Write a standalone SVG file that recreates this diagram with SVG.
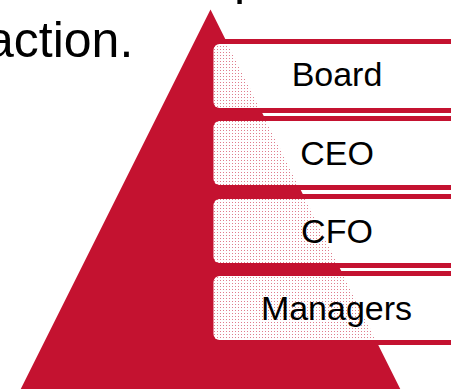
<svg xmlns="http://www.w3.org/2000/svg" width="451" height="389" viewBox="0 0 451 389">
  <defs>
    <!-- white fill with a sparse grid of see-through pixels (dithered transparency) -->
    <pattern id="dither" patternUnits="userSpaceOnUse" x="0" y="0" width="3" height="3">
      <path d="M0 0H3V3H0Z M1 1V2H2V1Z" fill="#ffffff" fill-rule="evenodd"/>
      <rect x="1" y="1" width="1" height="1" fill="#ffffff" opacity="0.45"/>
    </pattern>
  </defs>
  <style>
    .red { fill: #c41230; }
    .band { fill: #c41230; }
    .body { fill: url(#dither); }
    .label { font-family: "Liberation Sans", Arial, sans-serif; font-size: 34px; fill: #000000; text-anchor: middle; }
    .body-text { font-family: "Liberation Sans", Arial, sans-serif; font-size: 50px; fill: #000000; }
  </style>

  <rect width="451" height="389" fill="#ffffff"/>

  <!-- running slide text, clipped by the frame -->
  <text class="body-text" x="-14" y="56.5">action.</text>
  <text class="body-text" x="234" y="-6">p</text>

  <!-- hierarchy pyramid -->
  <polygon id="pyramid" class="red" points="210.5,9.5 400.5,389.5 20.5,389.5"/>

  <g id="connectors"></g>

  <g id="board">
    <rect class="band" x="213.5" y="39" width="240" height="5"/>
    <rect class="body" x="213.5" y="44" width="250" height="64" rx="6"/>
    <rect class="band" x="213.5" y="108" width="240" height="5"/>
    <text class="label" x="337" y="85.5">Board</text>
  </g>

  <g id="ceo">
    <rect class="band" x="213.5" y="116" width="240" height="5"/>
    <rect class="body" x="213.5" y="121" width="250" height="64" rx="6"/>
    <rect class="band" x="213.5" y="185" width="240" height="5"/>
    <text class="label" x="337" y="165">CEO</text>
  </g>

  <g id="cfo">
    <rect class="band" x="213.5" y="194" width="240" height="5"/>
    <rect class="body" x="213.5" y="199" width="250" height="64" rx="6"/>
    <rect class="band" x="213.5" y="263" width="240" height="5"/>
    <text class="label" x="337" y="243">CFO</text>
  </g>

  <g id="managers">
    <rect class="band" x="213.5" y="271" width="240" height="5"/>
    <rect class="body" x="213.5" y="276" width="250" height="64" rx="6"/>
    <rect class="band" x="213.5" y="340" width="240" height="5"/>
    <text class="label" x="336.5" y="320">Managers</text>
  </g>
</svg>
